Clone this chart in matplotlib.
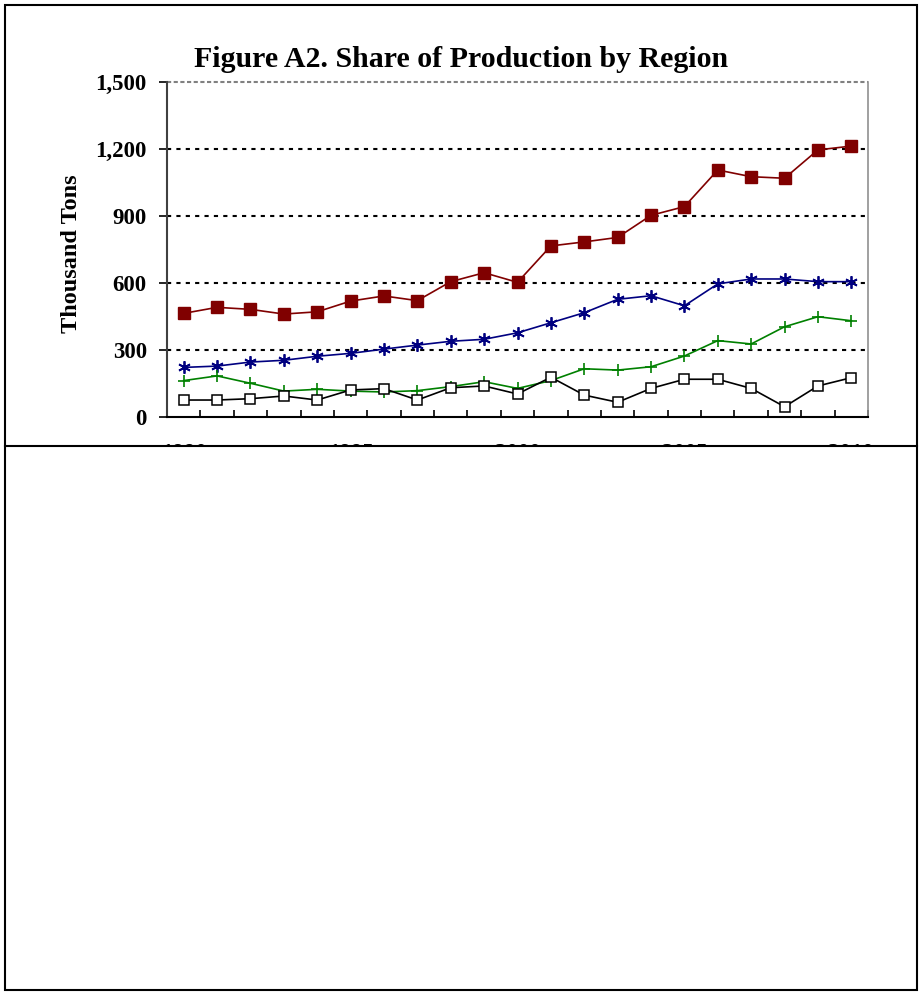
import matplotlib
matplotlib.use("Agg")
import matplotlib.pyplot as plt
from matplotlib.patches import Rectangle
from matplotlib.lines import Line2D

years = list(range(1990, 2011))
tick_years = ["1990", "1995", "2000", "2005", "2010"]

series_red = [464, 491, 482, 461, 471, 519, 542, 521, 606, 646, 603,
              766, 784, 804, 903, 942, 1106, 1076, 1069, 1196, 1213]
series_blue = [222, 228, 246, 254, 272, 285, 304, 322, 339, 348, 377,
               422, 467, 527, 543, 498, 596, 618, 618, 606, 606]
series_green = [163, 184, 151, 116, 124, 116, 112, 118, 136, 158, 128,
                163, 216, 210, 225, 273, 342, 327, 404, 449, 431]
series_black = [76, 76, 82, 94, 76, 121, 127, 76, 131, 139, 103,
                178, 98, 66, 128, 169, 169, 128, 46, 139, 176]

yticks = [0, 300, 600, 900, 1200, 1500]
ytick_labels = ["0", "300", "600", "900", "1,200", "1,500"]

serif = ["Liberation Serif", "DejaVu Serif"]
plt.rcParams["font.family"] = serif

W, H = 922, 994
fig = plt.figure(figsize=(W / 100, H / 100), dpi=100)

ax = fig.add_axes([167 / W, 1 - 417 / H, 701 / W, 335 / H])
x = list(range(len(years)))

ax.plot(x, series_red, color="#800000", lw=1.2, marker="s", ms=8,
        mfc="#800000", mec="#800000", zorder=5)
ax.plot(x, series_blue, color="#000080", lw=1.2, marker=(6, 2, 0), ms=9,
        mec="#000080", mew=1.3, zorder=5)
ax.plot(x, series_green, color="#008000", lw=1.2, marker="+", ms=9,
        mec="#008000", mew=1.2, zorder=5)
ax.plot(x, series_black, color="black", lw=1.2, marker="s", ms=6.8,
        mfc="white", mec="black", mew=1.1, zorder=5)

ax.set_xlim(-0.5, len(years) - 0.5)
ax.set_ylim(0, 1500)

for v in yticks[1:-1]:
    ax.axhline(v, color="black", lw=1.5, ls=(0, (2, 2.5)), zorder=1)
ax.axhline(1500, color="#808080", lw=1.5, ls=(0, (2, 1.2)), zorder=1, clip_on=False)

ax.set_yticks(yticks)
ax.set_yticklabels(ytick_labels, fontsize=16.5, fontweight="bold")
ax.tick_params(axis="y", direction="out", length=6, width=1.2, pad=8.5, colors="black")

ax.set_xticks([i - 0.5 for i in range(len(years) + 1)], minor=False)
ax.set_xticklabels([""] * (len(years) + 1))
ax.set_xticks([years.index(int(t)) for t in tick_years], minor=True)
ax.set_xticklabels(tick_years, minor=True, fontsize=16.5, fontweight="bold")
ax.tick_params(axis="x", which="major", direction="in", length=5, width=1.2)
ax.tick_params(axis="x", which="minor", length=0, pad=19)

ax.spines["top"].set_visible(False)
ax.spines["right"].set_color("#909090")
ax.spines["right"].set_linewidth(1.2)
ax.spines["left"].set_color("#404040")
ax.spines["left"].set_linewidth(1.5)
ax.spines["bottom"].set_color("black")
ax.spines["bottom"].set_linewidth(1.5)

fig.text(461 / W, 1 - 67 / H, "Figure A2. Share of Production by Region",
         ha="center", va="baseline", fontsize=21.5, fontweight="bold")
fig.text(71 / W, 1 - 254 / H, "Thousand Tons", rotation=90, ha="center",
         va="center", fontsize=17.5, fontweight="bold")

# white lower panel covering the x tick labels
fig.patches.append(Rectangle((5 / W, 1 - 990 / H), 912 / W, (990 - 446) / H,
                             transform=fig.transFigure, facecolor="white",
                             edgecolor="none", zorder=10))
fig.lines.append(Line2D([5 / W, 917 / W], [1 - 446 / H, 1 - 446 / H],
                        transform=fig.transFigure, color="black", lw=1.5, zorder=11))
fig.patches.append(Rectangle((5 / W, 1 - 990 / H), 912 / W, 985 / H,
                             transform=fig.transFigure, facecolor="none",
                             edgecolor="black", lw=1.5, zorder=12))

fig.savefig("out.png", dpi=100)
